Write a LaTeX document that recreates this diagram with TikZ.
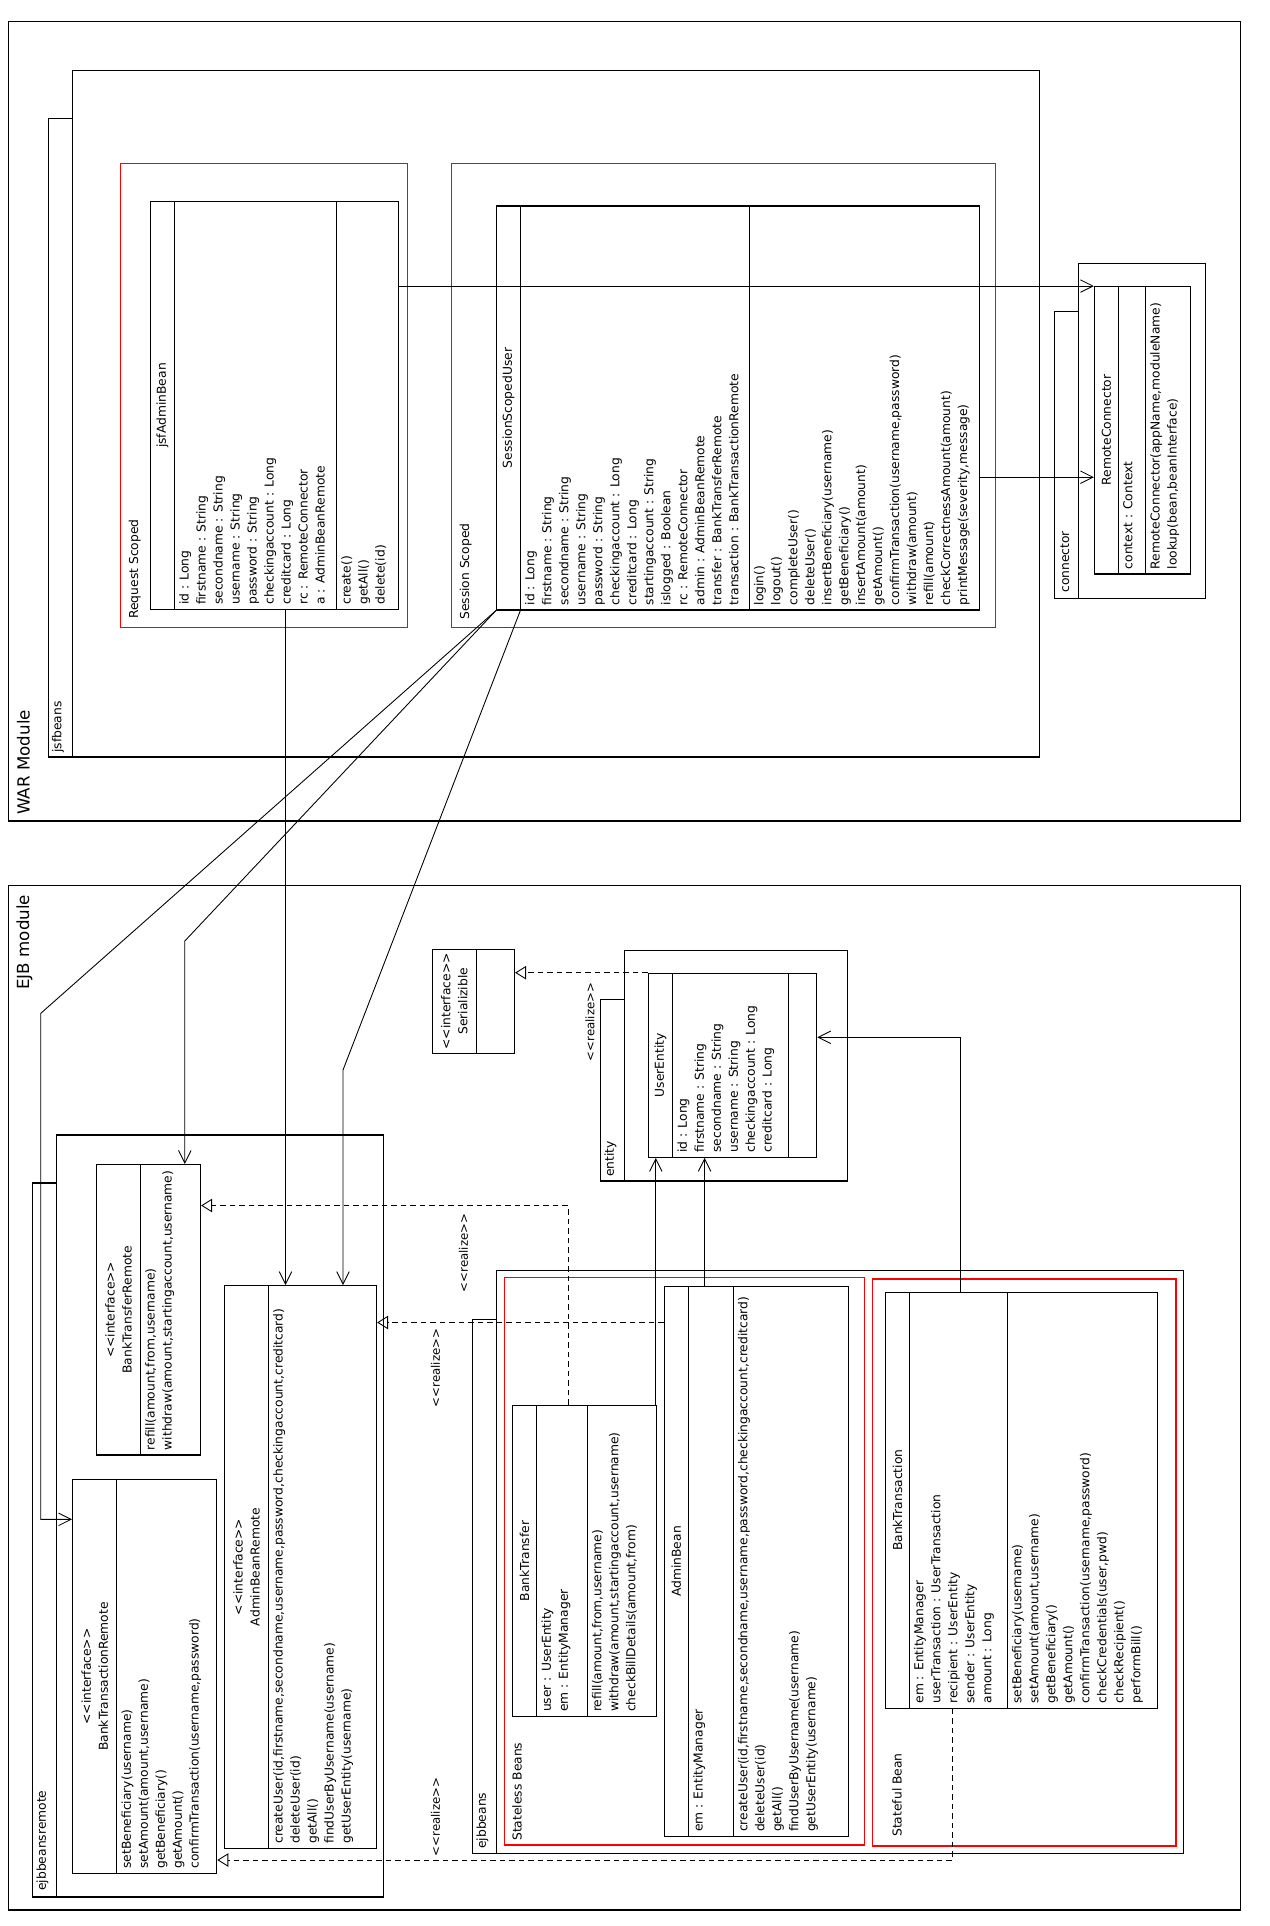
\documentclass[tikz,border=0pt]{standalone}
\usepackage{fontspec}
\setmainfont{DejaVu Sans}
\usetikzlibrary{arrows.meta,fit}

\newcommand{\umlsize}{\fontsize{7}{9.67}\selectfont}
\newcommand{\modsize}{\fontsize{9.5}{11}\selectfont}
\newcommand{\lstereo}{<\kern0pt<}
\newcommand{\rstereo}{>\kern0pt>}

\begin{document}
\begin{tikzpicture}[x=0.02cm,y=-0.02cm,
    frame/.style={draw,line width=0.65pt},
    scopebox/.style={draw=red,line width=0.6pt},
    classbox/.style={draw,line width=0.7pt,inner sep=0pt},
    compline/.style={line width=0.7pt},
    classname/.style={rotate=90,align=center,inner sep=0pt,font=\umlsize},
    members/.style={rotate=90,anchor=north west,align=left,inner sep=2.5pt,font=\umlsize},
    pkgname/.style={rotate=90,anchor=west,inner sep=0pt,font=\umlsize},
    modname/.style={rotate=90,anchor=west,inner sep=0pt,font=\modsize},
    stereo/.style={rotate=90,inner sep=0pt,font=\fontsize{6.7}{8}\selectfont},
    assoc/.style={line width=0.5pt,-{Straight Barb[length=2.5mm,width=2.5mm]}},
    realize/.style={line width=0.5pt,dash pattern=on 1.1mm off 0.8mm,
      -{Triangle[open,length=2.2mm,width=2.7mm]}}]

  \useasboundingbox (0,0) rectangle (1270,1926);

  % modules
  \draw[frame] (8.2,21.4) rectangle (1240.3,821);
  \draw[frame] (8.2,885.5) rectangle (1240.3,1910);
  \node[modname] (warlbl) at (23.5,815) {WAR Module};
  \node[modname] (ejblbl) at (24.5,990) {EJB module};

  % packages
  \draw[frame]
    (48.4,118.9) rectangle (72.3,757)
    (72.3,70.3) rectangle (1039.5,757);
  \draw[frame]
    (1054.3,311.7) rectangle (1078.5,598.3)
    (1078.5,263.3) rectangle (1205.5,598.3);
  \draw[frame]
    (32.5,1183) rectangle (56.7,1897)
    (56.7,1135) rectangle (383.5,1897);
  \draw[frame]
    (600.3,999.3) rectangle (624.4,1181)
    (624.4,950.3) rectangle (847.3,1181);
  \draw[frame]
    (472.5,1319.5) rectangle (496.3,1853.4)
    (496.3,1270.3) rectangle (1183.3,1853.4);
  \node[pkgname] (jsfpkg) at (58,753) {jsfbeans};
  \node[pkgname] (connpkg) at (1065,593) {connector};
  \node[pkgname] (remotepkg) at (42.5,1891) {ejbbeansremote};
  \node[pkgname] (entitypkg) at (610.5,1177) {entity};
  \node[pkgname] (beanspkg) at (482.5,1849) {ejbbeans};

  % scopes
  \draw[scopebox] (120.4,163.4) rectangle (407.4,627.2);
  \draw[scopebox] (451.5,163.3) rectangle (995.5,627.3);
  \draw[scopebox] (504.5,1277.5) rectangle (864.3,1845);
  \draw[scopebox] (872.5,1279) rectangle (1176,1846);
  \node[pkgname] (reqlbl) at (134.7,619) {Request Scoped};
  \node[pkgname] (sesslbl) at (465.7,620) {Session Scoped};
  \node[pkgname] (statelesslbl) at (517,1841) {Stateless Beans};
  \node[pkgname] (statefullbl) at (897,1837) {Stateful Bean};

  % jsfAdminBean
  \node[classbox,fit={(150.5,201.4) (398.5,609.5)}] (jsfadmin) {};
  \draw[compline] (174.6,201.4) -- (174.6,609.5) (336.5,201.4) -- (336.5,609.5);
  \node[classname] (jsfadmin-t) at (162.5,405.5) {jsfAdminBean};
  \node[members] (jsfadmin-a) at (174.6,609.5) {id : Long\\firstname : String\\secondname : String\\username : String\\password : String\\checkingaccount : Long\\creditcard : Long\\rc : RemoteConnector\\a : AdminBeanRemote};
  \node[members] (jsfadmin-o) at (336.5,609.5) {create()\\getAll()\\delete(id)};

  % SessionScopedUser
  \node[classbox,fit={(496.5,206) (979.3,610)}] (sessuser) {};
  \draw[compline] (520.3,206) -- (520.3,610) (749.2,206) -- (749.2,610);
  \node[classname] (sessuser-t) at (508.4,408) {SessionScopedUser};
  \node[members] (sessuser-a) at (520.3,610) {id : Long\\firstname : String\\secondname : String\\username : String\\password : String\\checkingaccount : Long\\creditcard : Long\\startingaccount : String\\islogged : Boolean\\rc : RemoteConnector\\admin : AdminBeanRemote\\transfer : BankTransferRemote\\transaction : BankTransactionRemote};
  \node[members] (sessuser-o) at (749.2,610) {login()\\logout()\\completeUser()\\deleteUser()\\insertBeneficiary(username)\\getBeneficiary()\\insertAmount(amount)\\getAmount()\\confirmTransaction(username,password)\\withdraw(amount)\\refill(amount)\\checkCorrectnessAmount(amount)\\printMessage(severity,message)};

  % RemoteConnector
  \node[classbox,fit={(1094.5,286.7) (1190.5,574)}] (remconn) {};
  \draw[compline] (1118.5,286.7) -- (1118.5,574) (1145.5,286.7) -- (1145.5,574);
  \node[classname] (remconn-t) at (1106.5,430) {RemoteConnector};
  \node[members] (remconn-a) at (1118.5,574) {context : Context};
  \node[members] (remconn-o) at (1145.5,574) {RemoteConnector(appName,moduleName)\\lookup(bean,beanInterface)};

  % Serializible
  \node[classbox,fit={(432.3,949.3) (514.5,1053.3)}] (serial) {};
  \draw[compline] (476.5,949.3) -- (476.5,1053.3);
  \node[classname] (serial-t) at (454.4,1001.3) {\lstereo interface\rstereo\\Serializible};

  % UserEntity
  \node[classbox,fit={(648.3,973.3) (816.7,1157.3)}] (userent) {};
  \draw[compline] (672.7,973.3) -- (672.7,1157.3) (788.7,973.3) -- (788.7,1157.3);
  \node[classname] (userent-t) at (660.5,1065.3) {UserEntity};
  \node[members] (userent-a) at (672.7,1157.3) {id : Long\\firstname : String\\secondname : String\\username : String\\checkingaccount : Long\\creditcard : Long};

  % BankTransferRemote
  \node[classbox,fit={(96.5,1164.5) (200.5,1455)}] (xferremote) {};
  \draw[compline] (140.5,1164.5) -- (140.5,1455);
  \node[classname] (xferremote-t) at (118.5,1309.8) {\lstereo interface\rstereo\\BankTransferRemote};
  \node[members] (xferremote-o) at (140.5,1455) {refill(amount,from,username)\\withdraw(amount,startingaccount,username)};

  % BankTransactionRemote
  \node[classbox,fit={(72.7,1479.5) (216.7,1873.4)}] (transremote) {};
  \draw[compline] (116.7,1479.5) -- (116.7,1873.4);
  \node[classname] (transremote-t) at (94.7,1676.5) {\lstereo interface\rstereo\\BankTransactionRemote};
  \node[members] (transremote-o) at (116.7,1873.4) {setBeneficiary(username)\\setAmount(amount,username)\\getBeneficiary()\\getAmount()\\confirmTransaction(username,password)};

  % AdminBeanRemote
  \node[classbox,fit={(224.8,1285.7) (376.5,1848.4)}] (adminremote) {};
  \draw[compline] (268.5,1285.7) -- (268.5,1848.4);
  \node[classname] (adminremote-t) at (246.6,1567) {\lstereo interface\rstereo\\AdminBeanRemote};
  \node[members] (adminremote-o) at (268.5,1848.4) {createUser(id,firstname,secondname,username,password,checkingaccount,creditcard)\\deleteUser(id)\\getAll()\\findUserByUsername(username)\\getUserEntity(username)};

  % BankTransfer
  \node[classbox,fit={(512.3,1405.2) (656.7,1716.6)}] (xfer) {};
  \draw[compline] (536.7,1405.2) -- (536.7,1716.6) (587.3,1405.2) -- (587.3,1716.6);
  \node[classname] (xfer-t) at (524.5,1561) {BankTransfer};
  \node[members] (xfer-a) at (536.7,1716.6) {user : UserEntity\\em : EntityManager};
  \node[members] (xfer-o) at (587.3,1716.6) {refill(amount,from,username)\\withdraw(amount,startingaccount,username)\\checkBillDetails(amount,from)};

  % AdminBean
  \node[classbox,fit={(664.2,1286.2) (848.3,1836.6)}] (adminbean) {};
  \draw[compline] (688.5,1286.2) -- (688.5,1836.6) (733.3,1286.2) -- (733.3,1836.6);
  \node[classname] (adminbean-t) at (676.3,1561.4) {AdminBean};
  \node[members] (adminbean-a) at (688.5,1836.6) {em : EntityManager};
  \node[members] (adminbean-o) at (733.3,1836.6) {createUser(id,firstname,secondname,username,password,checkingaccount,creditcard)\\deleteUser(id)\\getAll()\\findUserByUsername(username)\\getUserEntity(username)};

  % BankTransaction
  \node[classbox,fit={(885.7,1292.4) (1157.7,1708.2)}] (trans) {};
  \draw[compline] (909.3,1292.4) -- (909.3,1708.2) (1007.3,1292.4) -- (1007.3,1708.2);
  \node[classname] (trans-t) at (897.5,1500.3) {BankTransaction};
  \node[members] (trans-a) at (909.3,1708.2) {em : EntityManager\\userTransaction : UserTransaction\\recipient : UserEntity\\sender : UserEntity\\amount : Long};
  \node[members] (trans-o) at (1007.3,1708.2) {setBeneficiary(username)\\setAmount(amount,username)\\getBeneficiary()\\getAmount()\\confirmTransaction(username,password)\\checkCredentials(user,pwd)\\checkRecipient()\\performBill()};

  % associations
  \draw[assoc] (jsfadmin.east |- remconn.north west) -- (remconn.north west);
  \draw[assoc] (sessuser.east |- 0,477.2) -- (remconn.west |- 0,477.2);
  \draw[assoc] (jsfadmin.south -| 285.5,0) -- (adminremote.north -| 285.5,0);
  \draw[assoc] (sessuser.south west) -- (40.8,1013.3) -- (40.8,1519.3)
    -- (transremote.west |- 0,1519.3);
  \draw[assoc] (sessuser.south west) -- (184.8,941) -- (xferremote.north -| 184.8,0);
  \draw[assoc] (sessuser.south -| 520.3,0) -- (343,1070) -- (adminremote.north -| 343,0);
  \draw[assoc] (xfer.north -| 655.8,0) -- (userent.south -| 655.8,0);
  \draw[assoc] (adminbean.north -| 704.6,0) -- (userent.south -| 704.6,0);
  \draw[assoc] (trans.north -| 960,0) -- (960,1037.3) -- (userent.east |- 0,1037.3);

  % realizations
  \draw[realize] (userent.north west) -- (userent.north west -| serial.east);
  \draw[realize] (xfer.north -| 568.3,0) -- (568.3,1205.5) -- (xferremote.east |- 0,1205.5);
  \draw[realize] (adminbean.west |- 0,1322.5) -- (adminremote.east |- 0,1322.5);
  \draw[realize] (trans.south -| 952.3,0) -- (952.3,1860) -- (transremote.east |- 0,1860);
  \node[stereo] (real1) at (590,1022) {\lstereo realize\rstereo};
  \node[stereo] (real2) at (463.5,1253) {\lstereo realize\rstereo};
  \node[stereo] (real3) at (435.5,1368) {\lstereo realize\rstereo};
  \node[stereo] (real4) at (435.5,1817) {\lstereo realize\rstereo};
\end{tikzpicture}
\end{document}
